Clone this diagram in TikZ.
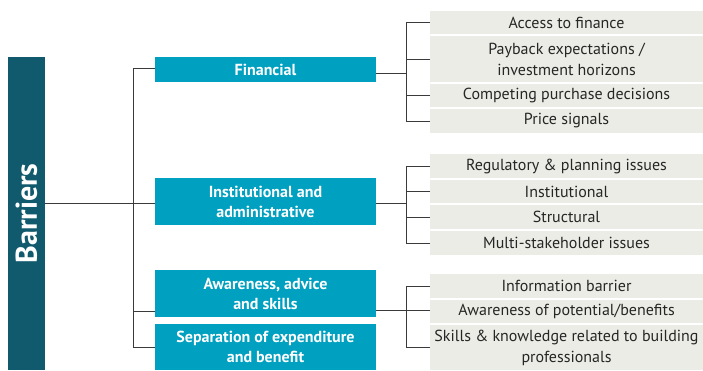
\documentclass[tikz,border=0pt]{standalone}
\usepackage{fontspec}
\setmainfont{PT Sans}
\definecolor{bardark}{HTML}{115A6E}
\definecolor{catblue}{HTML}{00A0C0}
\definecolor{itemgray}{HTML}{ECECE6}
\definecolor{linegray}{HTML}{3A3A3A}
\tikzset{
  barbox/.style={fill=bardark, draw=none, inner sep=0, minimum width=37, minimum height=313},
  catbox/.style={fill=catblue, draw=none, inner sep=0, minimum width=221, text=white,
     font=\bfseries\fontsize{16}{20}\selectfont, align=center},
  itembox/.style={fill=itemgray, draw=none, inner sep=0, minimum width=273, text=black!85,
     font=\fontsize{16}{21}\selectfont, align=center},
  conn/.style={draw=linegray, line width=1pt}
}
\begin{document}
\begin{tikzpicture}[x=1pt,y=-1pt]
\useasboundingbox (0,0) rectangle (703,370);
% root
\node[barbox] (bar) at (26.5,213.5) {};
\node[rotate=90, text=white, font=\bfseries\fontsize{30}{30}\selectfont] (barlbl) at (bar.center) {Barriers};
% categories
\node[catbox, minimum height=25] (fin) at (265.5,69.5) {Financial};
\node[catbox, minimum height=47] (inst) at (265.5,201.5) {Institutional and\\administrative};
\node[catbox, minimum height=47] (aware) at (265.5,293.5) {Awareness, advice\\and skills};
\node[catbox, minimum height=46] (sep) at (265.5,347) {Separation of expenditure\\and benefit};
% financial items
\node[itembox, minimum height=23] (f1) at (566.5,22.5) {Access to finance};
\node[itembox, minimum height=46] (f2) at (566.5,59) {Payback expectations /\\investment horizons};
\node[itembox, minimum height=23] (f3) at (566.5,95.5) {Competing purchase decisions};
\node[itembox, minimum height=24] (f4) at (566.5,121) {Price signals};
% institutional items
\node[itembox, minimum height=24] (i1) at (566.5,166) {Regulatory \& planning issues};
\node[itembox, minimum height=23] (i2) at (566.5,191.5) {Institutional};
\node[itembox, minimum height=24] (i3) at (566.5,217) {Structural};
\node[itembox, minimum height=24] (i4) at (566.5,243) {Multi-stakeholder issues};
% awareness items
\node[itembox, minimum height=24] (a1) at (566.5,286) {Information barrier};
\node[itembox, minimum height=23] (a2) at (566.5,311.5) {Awareness of potential/benefits};
\node[itembox, minimum height=45] (a3) at (566.5,347.5) {Skills \& knowledge related to building\\professionals};
% connector coordinates
\coordinate (trunk) at (133,0);
\coordinate (fbr) at (406,0);
\coordinate (rootout) at (45,203);
\coordinate (finin) at (155,68);
\coordinate (awin) at (155,311);
\coordinate (finout) at (376,73);
\coordinate (instout) at (376,203);
\coordinate (awout) at (376,310);
% root connectors
\draw[conn] (rootout) -- (rootout -| inst.west);
\draw[conn] (finin) -- (finin -| trunk) -- (sep.west -| trunk) -- (sep.west);
\draw[conn] (awin -| trunk) -- (awin);
% financial bracket
\draw[conn] (finout) -- (finout -| fbr);
\draw[conn] (f1.west) -- (f1.west -| fbr) -- (f4.west -| fbr) -- (f4.west);
\draw[conn] (f2.west -| fbr) -- (f2.west);
\draw[conn] (f3.west -| fbr) -- (f3.west);
% institutional bracket
\draw[conn] (instout) -- (instout -| fbr);
\draw[conn] (i1.west) -- (i1.west -| fbr) -- (i4.west -| fbr) -- (i4.west);
\draw[conn] (i2.west -| fbr) -- (i2.west);
\draw[conn] (i3.west -| fbr) -- (i3.west);
% awareness bracket
\draw[conn] (awout) -- (awout -| a2.west);
\draw[conn] (a1.west) -- (a1.west -| fbr) -- (a3.west -| fbr) -- (a3.west);
\end{tikzpicture}
\end{document}
